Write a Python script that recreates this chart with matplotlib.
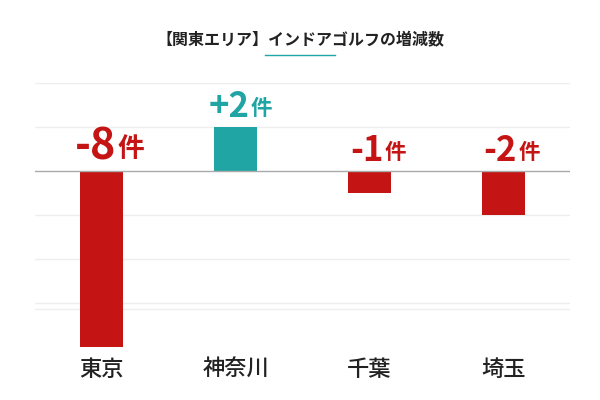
import matplotlib
matplotlib.use("Agg")
import matplotlib.pyplot as plt

categories = ["東京", "神奈川", "千葉", "埼玉"]
values = [-8, 2, -1, -2]
title = "【関東エリア】インドアゴルフの増減数"
unit = "件"

RED = "#C41414"
TEAL = "#20A4A4"
FONT = "Noto Sans CJK JP"

fig = plt.figure(figsize=(6, 4), dpi=100)
ax = fig.add_axes([35/600, 1-347/400, 535/600, (347-83)/400])
x = list(range(len(categories)))
colors = [TEAL if v > 0 else RED for v in values]
ax.bar(x, values, width=0.32, color=colors, zorder=3)
ax.set_ylim(-8, 4)
ax.set_xlim(-0.5, 3.5)
for gy in [4, 2, -2, -4, -6]:
    ax.axhline(gy, color="#eeeeee", lw=1, zorder=1)
ax.axhline(-6.25, color="#eeeeee", lw=1, zorder=1)
ax.axhline(0, color="#aaaaaa", lw=1, zorder=4)
for s in ax.spines.values():
    s.set_visible(False)
ax.set_yticks([])
ax.set_xticks(x)
ax.set_xticklabels(categories, fontfamily=FONT, fontsize=16, fontweight="medium", color="#222222")
ax.tick_params(axis="x", length=0, pad=8)

for xi, v, c in zip(x, values, colors):
    y = max(v, 0)
    txt = f"{v:+d}"
    big = 31 if abs(v) >= 8 else 25
    ax.annotate(txt, (xi, y), xytext=(10, 2), textcoords="offset points",
                ha="right", va="bottom", fontsize=big, fontweight="bold",
                color=c, fontfamily=FONT, zorder=5)
    ax.annotate(unit, (xi, y), xytext=(11, 6), textcoords="offset points",
                ha="left", va="bottom", fontsize=big*0.62, fontweight="bold",
                color=c, fontfamily=FONT, zorder=5)

fig.text(0.5, 1-40/400, title, ha="center", va="center", fontsize=11.5,
         fontweight="bold", fontfamily=FONT, color="#222222")
fig.add_artist(plt.Line2D([265/600, 335/600], [1-55/400, 1-55/400],
                          color=TEAL, lw=1, transform=fig.transFigure))
fig.savefig("out.png", dpi=100, facecolor="white")
